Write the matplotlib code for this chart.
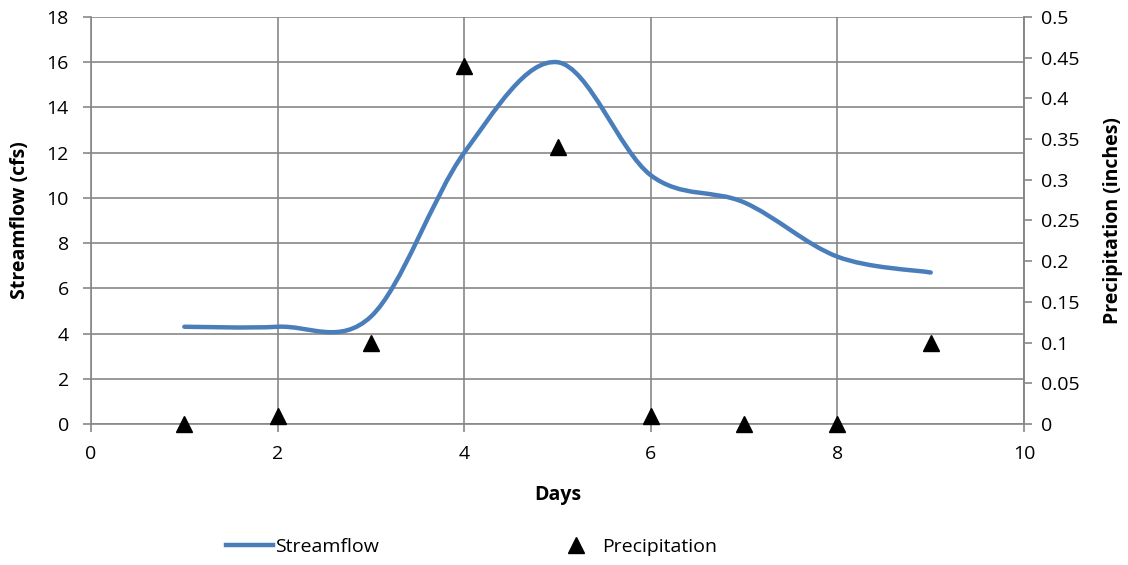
import matplotlib.pyplot as plt
from matplotlib.path import Path
from matplotlib.patches import PathPatch
from matplotlib.lines import Line2D

plt.rcParams['font.family'] = ['Open Sans', 'DejaVu Sans']

days = [1, 2, 3, 4, 5, 6, 7, 8, 9]
streamflow = [4.3, 4.3, 4.75, 12.0, 16.0, 11.0, 9.8, 7.4, 6.7]
precip = [0.0, 0.01, 0.1, 0.44, 0.34, 0.01, 0.0, 0.0, 0.1]

blue = '#4a7ebb'
grid_c = '#878787'

fig = plt.figure(figsize=(11.28, 5.65), dpi=100)
ax = fig.add_axes([0.0807, 0.2496, 0.8271, 0.7203])
ax2 = ax.twinx()

# Excel-style smoothed line: cubic Bezier segments through the data points
pts = list(zip(days, streamflow))
verts = [pts[0]]
codes = [Path.MOVETO]
n = len(pts)
for i in range(n - 1):
    p0 = pts[max(i - 1, 0)]
    p1 = pts[i]
    p2 = pts[i + 1]
    p3 = pts[min(i + 2, n - 1)]
    c1 = (p1[0] + (p2[0] - p0[0]) / 6, p1[1] + (p2[1] - p0[1]) / 6)
    c2 = (p2[0] - (p3[0] - p1[0]) / 6, p2[1] - (p3[1] - p1[1]) / 6)
    verts += [c1, c2, p2]
    codes += [Path.CURVE4] * 3
ax.add_patch(PathPatch(Path(verts, codes), facecolor='none', edgecolor=blue,
                       lw=3.2, capstyle='round', zorder=3))

ax2.plot(days, precip, linestyle='none', marker='^', color='black',
         markersize=11, clip_on=False, zorder=4)

ax.set_xlim(0, 10)
ax.set_ylim(0, 18)
ax2.set_ylim(0, 0.5)
ax.set_xticks(range(0, 11, 2))
ax.set_yticks(range(0, 19, 2))
ax2.set_yticks([i * 0.05 for i in range(11)])
ax2.set_yticklabels(['0', '0.05', '0.1', '0.15', '0.2', '0.25', '0.3',
                     '0.35', '0.4', '0.45', '0.5'])

ax.grid(True, color=grid_c, lw=1.2)
ax.set_axisbelow(True)
for a in (ax, ax2):
    a.spines['top'].set_visible(False)
    for s in ('left', 'right', 'bottom'):
        a.spines[s].set_color(grid_c)
        a.spines[s].set_linewidth(1.2)
    a.tick_params(colors=grid_c, labelcolor='black', labelsize=14,
                  length=6, width=1.2, direction='out')
ax.tick_params(axis='x', pad=9)
ax.tick_params(axis='y', pad=10)
ax2.tick_params(axis='y', pad=6)
ax2.spines['left'].set_visible(False)
ax2.spines['bottom'].set_visible(False)

ax.set_xlabel('Days', fontsize=14, fontweight='bold', labelpad=16)
ax.set_ylabel('Streamflow (cfs)', fontsize=14, fontweight='bold', labelpad=12)
ax2.set_ylabel('Precipitation (inches)', fontsize=14, fontweight='bold', labelpad=17)

handles = [Line2D([], [], color=blue, lw=3.2),
           Line2D([], [], color='black', marker='^', linestyle='none', markersize=11)]
fig.legend(handles, ['Streamflow', 'Precipitation'], loc='center',
           bbox_to_anchor=(0.418, 0.032), ncol=2, frameon=False, fontsize=14,
           handlelength=2.4, handletextpad=0.15, columnspacing=8.9)

fig.savefig('out.png', dpi=100)
